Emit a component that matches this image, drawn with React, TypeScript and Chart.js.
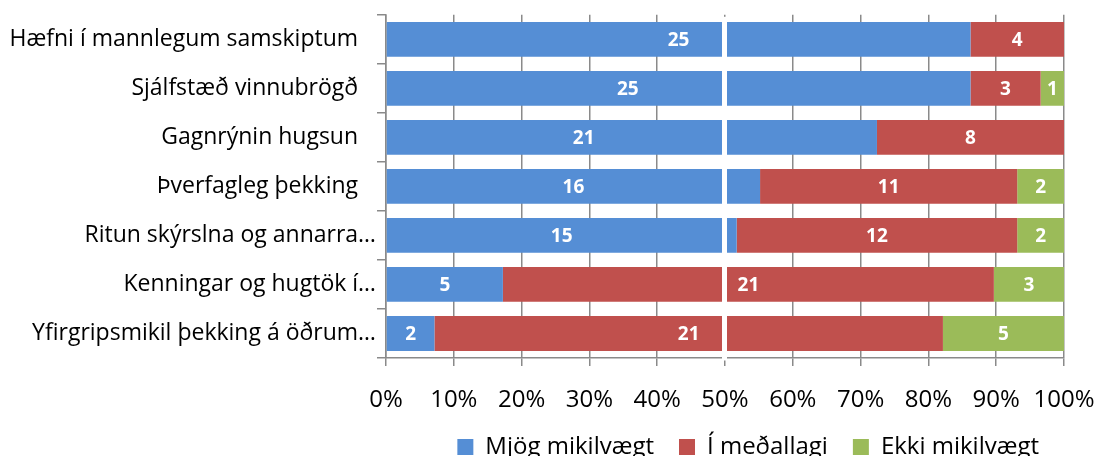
import React, { useEffect, useRef } from "react";
import { Chart, registerables } from "chart.js";

Chart.register(...registerables);

const categories = [
  "Hæfni í mannlegum samskiptum   ",
  "Sjálfstæð vinnubrögð   ",
  "Gagnrýnin hugsun   ",
  "Þverfagleg þekking   ",
  "Ritun skýrslna og annarra…",
  "Kenningar og hugtök í…",
  "Yfirgripsmikil þekking á öðrum…",
];
const seriesNames = ["Mjög mikilvægt", "Í meðallagi", "Ekki mikilvægt"];
const mjogMikilvaegt = [25, 25, 21, 16, 15, 5, 2];
const iMedallagi = [4, 3, 8, 11, 12, 21, 21];
const ekkiMikilvaegt = [0, 1, 0, 2, 2, 3, 5];
const seriesColors = ["#558ED5", "#C0504D", "#9BBB59"];
const xTickValues = [0, 10, 20, 30, 40, 50, 60, 70, 80, 90, 100];

const counts = [mjogMikilvaegt, iMedallagi, ekkiMikilvaegt];
const totals = categories.map((_, i) => counts.reduce((s, arr) => s + arr[i], 0));
const percents = counts.map((arr) => arr.map((v, i) => (v / totals[i]) * 100));

const FONT = "'Open Sans', 'Noto Sans', sans-serif";

const midLinePlugin = {
  id: "midLine",
  afterDatasetsDraw(chart: any) {
    const { ctx, chartArea } = chart;
    const x = chart.scales.x.getPixelForValue(50);
    ctx.save();
    ctx.fillStyle = "#ffffff";
    ctx.fillRect(x - 3, chartArea.top + 2, 5, chartArea.bottom - chartArea.top + 0.5);
    ctx.restore();
  },
};

const barLabelPlugin = {
  id: "barLabels",
  afterDatasetsDraw(chart: any, _args: any, opts: any) {
    const { ctx } = chart;
    const xScale = chart.scales.x;
    const pxPerPct = (xScale.right - xScale.left) / 100;
    ctx.save();
    ctx.fillStyle = "#ffffff";
    ctx.font = `bold 19px ${FONT}`;
    ctx.textAlign = "center";
    ctx.textBaseline = "middle";
    chart.data.datasets.forEach((_ds: any, di: number) => {
      const meta = chart.getDatasetMeta(di);
      meta.data.forEach((bar: any, i: number) => {
        const c = counts[di][i];
        if (!c) return;
        const p = bar.getProps(["x", "y", "base"], true);
        const shift = ((opts.shifts && opts.shifts[di] && opts.shifts[di][i]) || 0) * pxPerPct;
        ctx.fillText(String(c), (p.x + p.base) / 2 + shift, p.y + 1);
      });
    });
    ctx.restore();
  },
};

export default function App() {
  const canvasRef = useRef<HTMLCanvasElement | null>(null);

  useEffect(() => {
    document.body.style.margin = "0";
    document.body.style.overflow = "hidden";
    const canvas = canvasRef.current;
    if (!canvas) return;
    const chart = new Chart(canvas, {
      type: "bar",
      data: {
        labels: categories,
        datasets: seriesNames.map((name, di) => ({
          label: name,
          data: percents[di],
          backgroundColor: seriesColors[di],
          borderWidth: 0,
          categoryPercentage: 1,
          barPercentage: 0.71,
        })),
      },
      options: {
        indexAxis: "y",
        responsive: false,
        animation: false,
        maintainAspectRatio: false,
        layout: { padding: { top: 12, right: 34, left: 0, bottom: -13 } },
        scales: {
          x: {
            stacked: true,
            min: 0,
            max: 100,
            afterBuildTicks(scale: any) {
              scale.ticks = xTickValues.map((v) => ({ value: v }));
            },
            afterFit(scale: any) {
              scale.height = 52;
              scale.paddingLeft = 0;
              scale.paddingRight = 0;
            },
            grid: {
              color: "#8a8a8a",
              lineWidth: 1.5,
              drawTicks: true,
              tickLength: 8,
            },
            border: { display: true, color: "#8a8a8a", width: 1.5 },
            ticks: {
              padding: 20,
              color: "#000000",
              maxRotation: 0,
              font: { family: FONT, size: 24 },
              callback: (v: any) => `${v}%`,
            },
          },
          y: {
            stacked: true,
            afterFit(scale: any) {
              scale.width = 386;
            },
            grid: {
              display: true,
              offset: true,
              drawOnChartArea: false,
              color: "#8a8a8a",
              lineWidth: 1.5,
              tickLength: 9,
            },
            border: { display: true, color: "#8a8a8a", width: 1.5 },
            ticks: {
              padding: 1,
              color: "#000000",
              autoSkip: false,
              font: { family: FONT, size: 23 },
            },
          },
        },
        plugins: {
          legend: {
            position: "bottom",
            align: "end",
            labels: {
              boxWidth: 16,
              boxHeight: 16,
              padding: 25,
              color: "#000000",
              font: { family: FONT, size: 24 },
            },
          },
          tooltip: { enabled: false },
          barLabels: {
            shifts: [[0, -7.5, -7.1, 0, 0, 0, 0], [], []],
          },
        } as any,
      },
      plugins: [midLinePlugin, barLabelPlugin],
    } as any);
    return () => chart.destroy();
  }, []);

  return (
    <div style={{ width: 1098, height: 456 }}>
      <canvas ref={canvasRef} width={1098} height={456} style={{ display: "block" }} />
    </div>
  );
}
